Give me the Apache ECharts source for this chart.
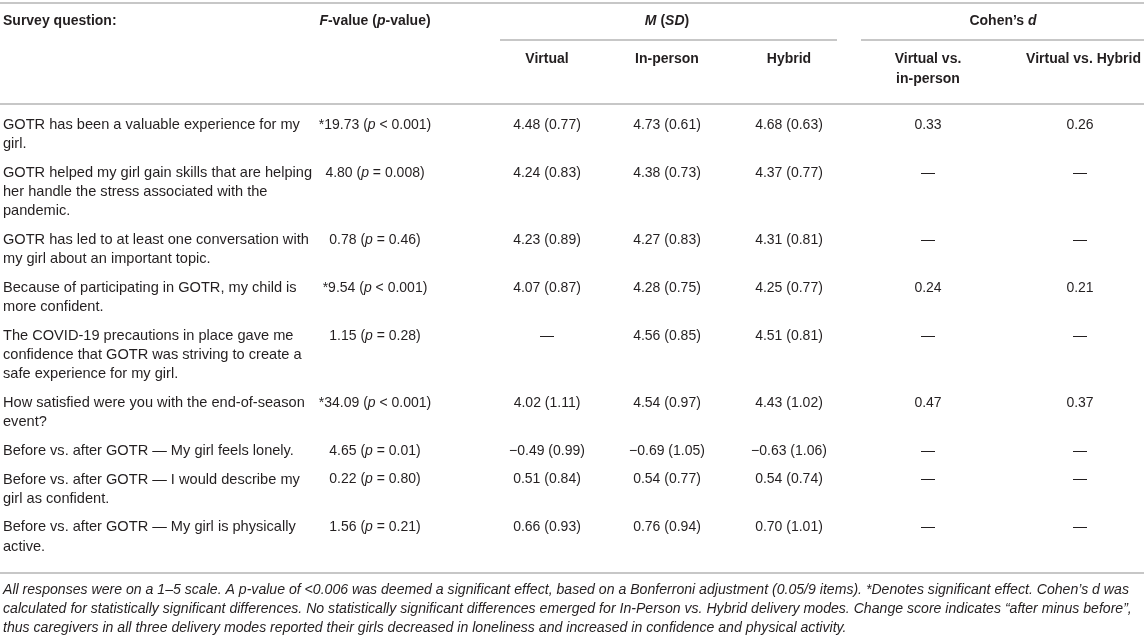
<!DOCTYPE html>
<html>
<head>
<meta charset="utf-8">
<script src="https://cdn.jsdelivr.net/npm/echarts@6/dist/echarts.min.js"></script>
<style>
  html, body { margin: 0; padding: 0; background: #fff; }
  #chart { width: 1144px; height: 638px; }
</style>
</head>
<body>
<div id="chart"></div>
<script>
// table data
const questions = [
  ["GOTR has been a valuable experience for my", "girl."],
  ["GOTR helped my girl gain skills that are helping", "her handle the stress associated with the", "pandemic."],
  ["GOTR has led to at least one conversation with", "my girl about an important topic."],
  ["Because of participating in GOTR, my child is", "more confident."],
  ["The COVID-19 precautions in place gave me", "confidence that GOTR was striving to create a", "safe experience for my girl."],
  ["How satisfied were you with the end-of-season", "event?"],
  ["Before vs. after GOTR \u2014 My girl feels lonely."],
  ["Before vs. after GOTR \u2014 I would describe my", "girl as confident."],
  ["Before vs. after GOTR \u2014 My girl is physically", "active."]
];
const fStat = [19.73, 4.80, 0.78, 9.54, 1.15, 34.09, 4.65, 0.22, 1.56];
const significant = [true, false, false, true, false, true, false, false, false];
const pText = ["< 0.001", "= 0.008", "= 0.46", "< 0.001", "= 0.28", "< 0.001", "= 0.01", "= 0.80", "= 0.21"];
const virtualM = [4.48, 4.24, 4.23, 4.07, null, 4.02, -0.49, 0.51, 0.66];
const virtualSD = [0.77, 0.83, 0.89, 0.87, null, 1.11, 0.99, 0.84, 0.93];
const inPersonM = [4.73, 4.38, 4.27, 4.28, 4.56, 4.54, -0.69, 0.54, 0.76];
const inPersonSD = [0.61, 0.73, 0.83, 0.75, 0.85, 0.97, 1.05, 0.77, 0.94];
const hybridM = [4.68, 4.37, 4.31, 4.25, 4.51, 4.43, -0.63, 0.54, 0.70];
const hybridSD = [0.63, 0.77, 0.81, 0.77, 0.81, 1.02, 1.06, 0.74, 1.01];
const dVirtualInPerson = [0.33, null, null, 0.24, null, 0.47, null, null, null];
const dVirtualHybrid = [0.26, null, null, 0.21, null, 0.37, null, null, null];
const footnote = [
  "All responses were on a 1\u20135 scale. A p-value of <0.006 was deemed a significant effect, based on a Bonferroni adjustment (0.05/9 items). *Denotes significant effect. Cohen\u2019s d was",
  "calculated for statistically significant differences. No statistically significant differences emerged for In-Person vs. Hybrid delivery modes. Change score indicates \u201cafter minus before\u201d,",
  "thus caregivers in all three delivery modes reported their girls decreased in loneliness and increased in confidence and physical activity."
];

// layout
const FONT = '"Liberation Sans", Arial, Helvetica, sans-serif';
const TEXT = "#231f20";
const RULE = "#b4b4b4";
const colX = { q: 3, f: 375, v: 547, ip: 667, h: 789, d1: 928, d2: 1080 };
const rowTop = 125, lineH = 19.2, rowPad = 9.5;
const DASH = "\u2014";

const rich = {
  i: { fontStyle: "italic", fontFamily: FONT, fontSize: 14, fill: TEXT },
  bi: { fontStyle: "italic", fontWeight: "bold", fontFamily: FONT, fontSize: 14, fill: TEXT },
  b: { fontWeight: "bold", fontFamily: FONT, fontSize: 14, fill: TEXT }
};

function num(v) {
  const s = Math.abs(v).toFixed(2);
  return v < 0 ? "\u2212" + s : s;
}
function msd(m, sd) {
  return m === null ? DASH : num(m) + " (" + sd.toFixed(2) + ")";
}

function text(x, y, str, opt) {
  opt = opt || {};
  return {
    type: "text",
    x: x, y: y,
    silent: true,
    style: {
      text: str,
      fill: TEXT,
      font: (opt.italic ? "italic " : "") + (opt.bold ? "bold " : "") + (opt.size || 14) + "px " + FONT,
      align: opt.align || "center",
      verticalAlign: "middle",
      rich: rich
    }
  };
}
function rule(x1, x2, y) {
  return {
    type: "line", silent: true,
    shape: { x1: x1, y1: y, x2: x2, y2: y },
    style: { stroke: RULE, lineWidth: 1.6 }
  };
}

const els = [];
// header rules
els.push(rule(0, 1144, 3));
els.push(rule(500, 837, 40));
els.push(rule(861, 1144, 40));
els.push(rule(0, 1144, 104));

// header text
els.push(text(colX.q, 21, "Survey question:", { bold: true, align: "left" }));
els.push(text(colX.f, 21, "{bi|F}{b|-value (}{bi|p}{b|-value)}", { bold: true }));
els.push(text(colX.ip, 21, "{bi|M}{b| (}{bi|SD}{b|)}", { bold: true }));
els.push(text(1003, 21, "{b|Cohen\u2019s }{bi|d}", { bold: true }));
els.push(text(colX.v, 59, "Virtual", { bold: true }));
els.push(text(colX.ip, 59, "In-person", { bold: true }));
els.push(text(colX.h, 59, "Hybrid", { bold: true }));
els.push(text(colX.d1, 59, "Virtual vs.", { bold: true }));
els.push(text(colX.d1, 79, "in-person", { bold: true }));
els.push(text(1141, 59, "Virtual vs. Hybrid", { bold: true, align: "right" }));

// body rows
let y = rowTop;
questions.forEach(function (lines, r) {
  lines.forEach(function (ln, k) {
    els.push(text(colX.q, y + k * lineH, ln, { align: "left", size: 14.6 }));
  });
  const f = (significant[r] ? "*" : "") + fStat[r].toFixed(2) + " ({i|p} " + pText[r] + ")";
  els.push(text(colX.f, y, f));
  els.push(text(colX.v, y, msd(virtualM[r], virtualSD[r])));
  els.push(text(colX.ip, y, msd(inPersonM[r], inPersonSD[r])));
  els.push(text(colX.h, y, msd(hybridM[r], hybridSD[r])));
  els.push(text(colX.d1, y, dVirtualInPerson[r] === null ? DASH : dVirtualInPerson[r].toFixed(2)));
  els.push(text(colX.d2, y, dVirtualHybrid[r] === null ? DASH : dVirtualHybrid[r].toFixed(2)));
  y += lines.length * lineH + rowPad;
});

els.push(rule(0, 1144, 573));

footnote.forEach(function (ln, k) {
  els.push(text(colX.q, 590 + k * 19.2, ln, { align: "left", italic: true, size: 14.1 }));
});

const chart = echarts.init(document.getElementById("chart"), null, { renderer: "canvas" });
chart.setOption({
  backgroundColor: "#fff",
  animation: false,
  graphic: { elements: els }
});
window.addEventListener("resize", () => chart.resize());
</script>
</body>
</html>
